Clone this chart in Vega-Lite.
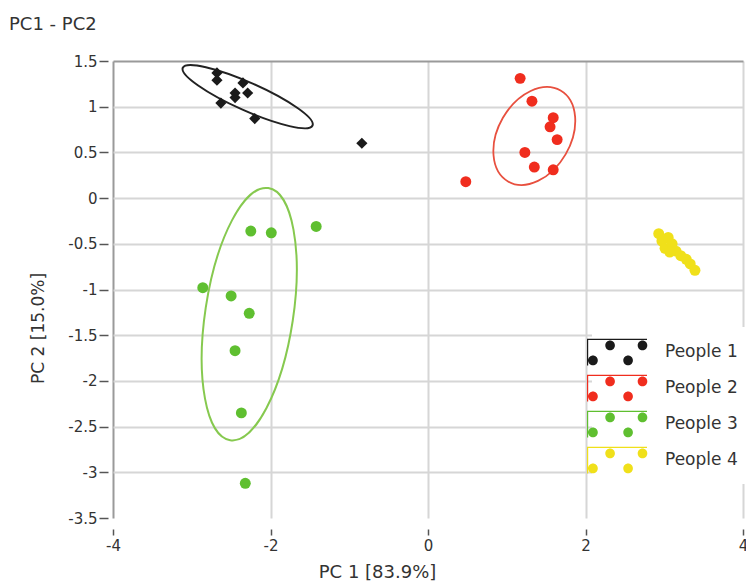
{
  "$schema": "https://vega.github.io/schema/vega-lite/v6.json",
  "width": 630,
  "height": 457,
  "autosize": {"type": "none"},
  "padding": {"left": 113, "top": 61, "right": 3, "bottom": 65},
  "background": "white",
  "title": {"text": "PC1 - PC2", "anchor": "start", "frame": "group", "dx": -104, "offset": 20, "font": "DejaVu Sans", "fontSize": 18, "fontWeight": "normal", "color": "#333333"},
  "config": {"view": {"stroke": null}, "font": "DejaVu Sans"},
  "datasets": {
    "points": [
      {"group": "People 1", "pc1": -2.68, "pc2": 1.37},
      {"group": "People 1", "pc1": -2.68, "pc2": 1.29},
      {"group": "People 1", "pc1": -2.35, "pc2": 1.26},
      {"group": "People 1", "pc1": -2.29, "pc2": 1.15},
      {"group": "People 1", "pc1": -2.45, "pc2": 1.15},
      {"group": "People 1", "pc1": -2.45, "pc2": 1.10},
      {"group": "People 1", "pc1": -2.63, "pc2": 1.04},
      {"group": "People 1", "pc1": -2.20, "pc2": 0.87},
      {"group": "People 1", "pc1": -0.84, "pc2": 0.60},
      {"group": "People 2", "pc1": 1.17, "pc2": 1.31},
      {"group": "People 2", "pc1": 1.32, "pc2": 1.06},
      {"group": "People 2", "pc1": 1.59, "pc2": 0.88},
      {"group": "People 2", "pc1": 1.55, "pc2": 0.78},
      {"group": "People 2", "pc1": 1.64, "pc2": 0.64},
      {"group": "People 2", "pc1": 1.23, "pc2": 0.50},
      {"group": "People 2", "pc1": 1.35, "pc2": 0.34},
      {"group": "People 2", "pc1": 1.59, "pc2": 0.31},
      {"group": "People 2", "pc1": 0.48, "pc2": 0.18},
      {"group": "People 3", "pc1": -2.25, "pc2": -0.36},
      {"group": "People 3", "pc1": -1.99, "pc2": -0.38},
      {"group": "People 3", "pc1": -1.42, "pc2": -0.31},
      {"group": "People 3", "pc1": -2.86, "pc2": -0.98},
      {"group": "People 3", "pc1": -2.50, "pc2": -1.07},
      {"group": "People 3", "pc1": -2.27, "pc2": -1.26},
      {"group": "People 3", "pc1": -2.45, "pc2": -1.67},
      {"group": "People 3", "pc1": -2.37, "pc2": -2.35},
      {"group": "People 3", "pc1": -2.32, "pc2": -3.12},
      {"group": "People 4", "pc1": 2.93, "pc2": -0.39},
      {"group": "People 4", "pc1": 2.97, "pc2": -0.47},
      {"group": "People 4", "pc1": 3.05, "pc2": -0.43},
      {"group": "People 4", "pc1": 3.01, "pc2": -0.55},
      {"group": "People 4", "pc1": 3.10, "pc2": -0.50},
      {"group": "People 4", "pc1": 3.15, "pc2": -0.58},
      {"group": "People 4", "pc1": 3.21, "pc2": -0.63},
      {"group": "People 4", "pc1": 3.28, "pc2": -0.67},
      {"group": "People 4", "pc1": 3.33, "pc2": -0.72},
      {"group": "People 4", "pc1": 3.39, "pc2": -0.79},
      {"group": "People 4", "pc1": 3.07, "pc2": -0.59}
    ],
    "ellipses": [
      {"group": "People 1", "pc1": -2.29, "pc2": 1.11},
      {"group": "People 2", "pc1": 1.35, "pc2": 0.68},
      {"group": "People 3", "pc1": -2.27, "pc2": -1.27}
    ]
  },
  "encoding": {
    "x": {
      "field": "pc1", "type": "quantitative",
      "scale": {"domain": [-4, 4], "nice": false, "zero": false},
      "axis": {
        "values": [-4, -2, 0, 2, 4],
        "labelExpr": "'' + datum.value",
        "title": "PC 1 [83.9%]",
        "titleX": 264, "titleY": 43, "titleBaseline": "middle", "titleAlign": "center",
        "titleFont": "DejaVu Sans", "titleFontSize": 18, "titleFontWeight": "normal", "titleColor": "#333333",
        "labelFont": "DejaVu Sans", "labelFontSize": 15, "labelColor": "#333333", "labelPadding": 3, "labelFlush": false,
        "tickSize": 6, "tickColor": "#555555", "tickWidth": 1.5,
        "offset": 11, "domain": false,
        "grid": true, "gridWidth": 2,
        "gridColor": {"condition": {"test": "datum.value === -4", "value": "#9a9a9a"}, "value": "#d6d6d6"}
      }
    },
    "y": {
      "field": "pc2", "type": "quantitative",
      "scale": {"domain": [-3.5, 1.5], "nice": false, "zero": false},
      "axis": {
        "values": [-3.5, -3, -2.5, -2, -1.5, -1, -0.5, 0, 0.5, 1, 1.5],
        "labelExpr": "'' + datum.value",
        "title": "PC 2 [15.0%]",
        "titleX": -70, "titleY": 267, "titleBaseline": "middle", "titleAlign": "center",
        "titleFont": "DejaVu Sans", "titleFontSize": 17, "titleFontWeight": "normal", "titleColor": "#333333",
        "labelFont": "DejaVu Sans", "labelFontSize": 15, "labelColor": "#333333", "labelPadding": 2, "labelFlush": false,
        "tickSize": 9, "tickColor": "#555555", "tickWidth": 1.5,
        "offset": 5, "domain": false,
        "grid": true, "gridWidth": 2,
        "gridColor": {"condition": [
          {"test": "datum.value === 1.5", "value": "#9a9a9a"},
          {"test": "datum.value === -3.5", "value": "transparent"}
        ], "value": "#d6d6d6"}
      }
    }
  },
  "layer": [
    {
      "data": {"name": "ellipses"},
      "transform": [{"filter": "datum.group === 'People 1'"}],
      "mark": {"type": "point", "filled": false, "color": "#222222", "strokeWidth": 2, "opacity": 1, "size": 20164, "angle": 24,
        "shape": "M 1 0 C 1 0.1088 0.5523 0.197 0 0.197 C -0.5523 0.197 -1 0.1088 -1 0 C -1 -0.1088 -0.5523 -0.197 0 -0.197 C 0.5523 -0.197 1 -0.1088 1 0 Z"}
    },
    {
      "data": {"name": "ellipses"},
      "transform": [{"filter": "datum.group === 'People 2'"}],
      "mark": {"type": "point", "filled": false, "color": "#e8503f", "strokeWidth": 1.8, "opacity": 1, "size": 11025, "angle": -60,
        "shape": "M 1 0 C 1 0.3816 0.5523 0.691 0 0.691 C -0.5523 0.691 -1 0.3816 -1 0 C -1 -0.3816 -0.5523 -0.691 0 -0.691 C 0.5523 -0.691 1 -0.3816 1 0 Z"}
    },
    {
      "data": {"name": "ellipses"},
      "transform": [{"filter": "datum.group === 'People 3'"}],
      "mark": {"type": "point", "filled": false, "color": "#86c94f", "strokeWidth": 2, "opacity": 1, "size": 65025, "angle": 98.6,
        "shape": "M 1 0 C 1 0.1905 0.5523 0.345 0 0.345 C -0.5523 0.345 -1 0.1905 -1 0 C -1 -0.1905 -0.5523 -0.345 0 -0.345 C 0.5523 -0.345 1 -0.1905 1 0 Z"}
    },
    {
      "data": {"name": "points"},
      "transform": [{"filter": "datum.group !== 'People 1'"}],
      "mark": {"type": "point", "filled": true, "opacity": 1, "size": 120, "shape": "circle"},
      "encoding": {
        "color": {
          "field": "group", "type": "nominal",
          "scale": {"domain": ["People 1", "People 2", "People 3", "People 4"], "range": ["#1a1a1a", "#f02d1e", "#5fbf30", "#f0e01a"]},
          "legend": {
            "orient": "none", "legendX": 479, "legendY": 266,
            "title": null,
            "symbolType": "M -2 -0.88 L 2 -0.88 L 2 -0.8 L -2 -0.8 Z M -2 -0.88 L -1.92 -0.88 L -1.92 0.9 L -2 0.9 Z M -0.14 -0.44 C -0.14 -0.2632 -0.2832 -0.12 -0.46 -0.12 C -0.6368 -0.12 -0.78 -0.2632 -0.78 -0.44 C -0.78 -0.6168 -0.6368 -0.76 -0.46 -0.76 C -0.2832 -0.76 -0.14 -0.6168 -0.14 -0.44 Z M 2.02 -0.44 C 2.02 -0.2632 1.8768 -0.12 1.7 -0.12 C 1.5232 -0.12 1.38 -0.2632 1.38 -0.44 C 1.38 -0.6168 1.5232 -0.76 1.7 -0.76 C 1.8768 -0.76 2.02 -0.6168 2.02 -0.44 Z M -1.28 0.56 C -1.28 0.7368 -1.4232 0.88 -1.6 0.88 C -1.7768 0.88 -1.92 0.7368 -1.92 0.56 C -1.92 0.3832 -1.7768 0.24 -1.6 0.24 C -1.4232 0.24 -1.28 0.3832 -1.28 0.56 Z M 1.06 0.56 C 1.06 0.7368 0.9168 0.88 0.74 0.88 C 0.5632 0.88 0.42 0.7368 0.42 0.56 C 0.42 0.3832 0.5632 0.24 0.74 0.24 C 0.9168 0.24 1.06 0.3832 1.06 0.56 Z",
            "symbolSize": 900, "symbolStrokeWidth": 0, "symbolOpacity": 1,
            "labelOffset": 33, "labelFont": "DejaVu Sans", "labelFontSize": 17, "labelColor": "#333333",
            "fillColor": "white", "padding": 10, "rowPadding": 7
          }
        }
      }
    },
    {
      "data": {"name": "points"},
      "transform": [{"filter": "datum.group === 'People 1'"}],
      "mark": {"type": "point", "filled": true, "opacity": 1, "size": 125, "shape": "diamond"},
      "encoding": {
        "color": {"field": "group", "type": "nominal"}
      }
    }
  ]
}
